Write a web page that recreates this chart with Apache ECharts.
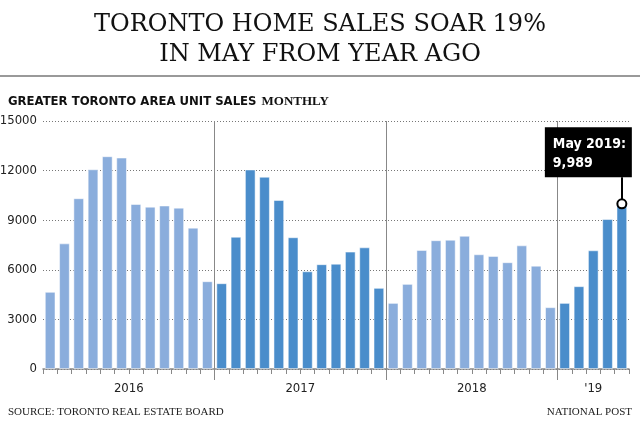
<!DOCTYPE html>
<html>
<head>
<meta charset="utf-8">
<script src="https://cdn.jsdelivr.net/npm/echarts@6/dist/echarts.min.js"></script>
<style>
  html, body { margin: 0; padding: 0; background: #fff; }
  #chart { width: 640px; height: 422px; }
</style>
</head>
<body>
<div id="chart"></div>
<script>
// monthly unit sales, Jan 2016 .. May 2019
const sales2016 = [4670, 7600, 10330, 12080, 12870, 12790, 9980, 9820, 9890, 9760, 8550, 5310];
const sales2017 = [5190, 8000, 12070, 11630, 10220, 7970, 5910, 6340, 6370, 7100, 7360, 4910];
const sales2018 = [4000, 5150, 7200, 7790, 7820, 8060, 6940, 6840, 6460, 7480, 6250, 3740];
const sales2019 = [4000, 5010, 7180, 9070, 9989];
const yearLabels = ['2016', '2017', '2018', "'19"];
const yTicks = [0, 3000, 6000, 9000, 12000, 15000];

const lightBlue = '#8aaddc';
const darkBlue = '#4a8dcb';
const condensed = "'Liberation Sans Narrow', 'DejaVu Sans Condensed', 'Roboto', sans-serif";

const years = [sales2016, sales2017, sales2018, sales2019];
const months = [];
const barData = [];
years.forEach((arr, y) => {
    arr.forEach((v, m) => {
        months.push(yearLabels[y] + '-' + (m + 1));
        barData.push({ value: v, itemStyle: { color: y % 2 === 0 ? lightBlue : darkBlue } });
    });
});

// year boundaries, in months from Jan 2016
const yearStarts = [12, 24, 36];
// centre of each year block, same month scale
const yearCentres = [6, 18, 30, 38.5];

const lastIdx = barData.length - 1;
const lastVal = sales2019[sales2019.length - 1];

const chart = echarts.init(document.getElementById('chart'), null, { renderer: 'canvas' });

const option = {
    animation: false,
    title: [
        {
            text: 'TORONTO HOME SALES SOAR 19%\nIN MAY FROM YEAR AGO',
            left: 'center',
            top: 5,
            textStyle: { fontFamily: 'DejaVu Serif', fontSize: 24, fontWeight: 'normal', color: '#111', lineHeight: 30, align: 'center' }
        },
        {
            text: '{a|GREATER TORONTO AREA UNIT SALES} {b|MONTHLY}',
            left: 3,
            top: 88,
            textStyle: {
                rich: {
                    a: { fontFamily: condensed, fontWeight: 'bold', fontSize: 13, color: '#111' },
                    b: { fontFamily: 'Liberation Serif', fontSize: 13, color: '#111' }
                }
            }
        },
        {
            text: 'SOURCE: TORONTO REAL ESTATE BOARD',
            left: 3,
            top: 402,
            textStyle: { fontFamily: 'Liberation Serif', fontSize: 11, fontWeight: 'normal', color: '#222' }
        },
        {
            text: 'NATIONAL POST',
            right: 3,
            top: 402,
            textStyle: { fontFamily: 'Liberation Serif', fontSize: 11, fontWeight: 'normal', color: '#222' }
        }
    ],
    graphic: [
        { type: 'line', shape: { x1: 0, y1: 76, x2: 640, y2: 76 }, style: { stroke: '#999', lineWidth: 2 } }
    ],
    grid: { left: 43, right: 11, top: 121, bottom: 53, containLabel: false, outerBoundsMode: 'none' },
    xAxis: [
        {
            type: 'category',
            data: months,
            axisLine: { lineStyle: { color: '#888', width: 1.5 } },
            axisTick: { show: true, interval: 0, length: 5, lineStyle: { color: '#888' } },
            axisLabel: { show: false },
            splitLine: { show: false }
        },
        {
            // month-boundary scale: year labels and long year ticks
            type: 'value',
            min: 0,
            max: months.length,
            position: 'bottom',
            axisLine: { show: false },
            axisTick: { show: true, customValues: yearStarts, length: 11, lineStyle: { color: '#888', width: 1 } },
            splitLine: { show: false },
            axisLabel: {
                customValues: yearCentres,
                margin: 13,
                fontFamily: condensed,
                fontSize: 13,
                color: '#222',
                formatter: (v) => yearLabels[yearCentres.indexOf(v)] || ''
            }
        }
    ],
    yAxis: {
        type: 'value',
        min: 0,
        max: yTicks[yTicks.length - 1],
        interval: 3000,
        axisLine: { show: false },
        axisTick: { show: false },
        axisLabel: { margin: 6, fontFamily: condensed, fontSize: 13, color: '#222', formatter: (v) => String(v) },
        splitLine: { lineStyle: { color: '#777', type: [1, 2], width: 1 } }
    },
    series: [
        {
            type: 'bar',
            xAxisIndex: 0,
            data: barData,
            barCategoryGap: '25%',
            itemStyle: { borderColor: 'rgba(255,255,255,0.5)', borderWidth: 1 },
            markLine: {
                silent: true,
                symbol: 'none',
                label: { show: false },
                lineStyle: { color: '#000', width: 2, type: 'solid' },
                data: [[{ coord: [lastIdx, lastVal] }, { coord: [lastIdx, 11600] }]]
            },
            markPoint: {
                silent: true,
                data: [
                    {
                        coord: [lastIdx, lastVal],
                        symbol: 'circle',
                        symbolSize: 9,
                        itemStyle: { color: '#fff', borderColor: '#000', borderWidth: 2 },
                        label: { show: false }
                    },
                    {
                        coord: [lastIdx, lastVal],
                        symbol: 'circle',
                        symbolSize: 1,
                        itemStyle: { color: 'rgba(0,0,0,0)' },
                        label: {
                            show: true,
                            position: 'top',
                            distance: 26,
                            offset: [-77, 0],
                            formatter: 'May 2019:\n9,989',
                            backgroundColor: '#000',
                            color: '#fff',
                            fontFamily: condensed,
                            fontWeight: 'bold',
                            fontSize: 14,
                            lineHeight: 19,
                            align: 'left',
                            width: 71,
                            padding: [8, 8, 4, 8]
                        }
                    }
                ]
            }
        },
        {
            // year dividers inside the plot, on the month-boundary scale
            type: 'line',
            xAxisIndex: 1,
            data: yearStarts.map((m) => [m, null]),
            showSymbol: false,
            silent: true,
            lineStyle: { opacity: 0 },
            markLine: {
                silent: true,
                symbol: 'none',
                label: { show: false },
                lineStyle: { color: '#888', width: 1, type: 'solid' },
                data: yearStarts.map((m) => [{ coord: [m, yTicks[yTicks.length - 1]] }, { coord: [m, 0] }])
            }
        }
    ]
};

chart.setOption(option);
</script>
</body>
</html>
